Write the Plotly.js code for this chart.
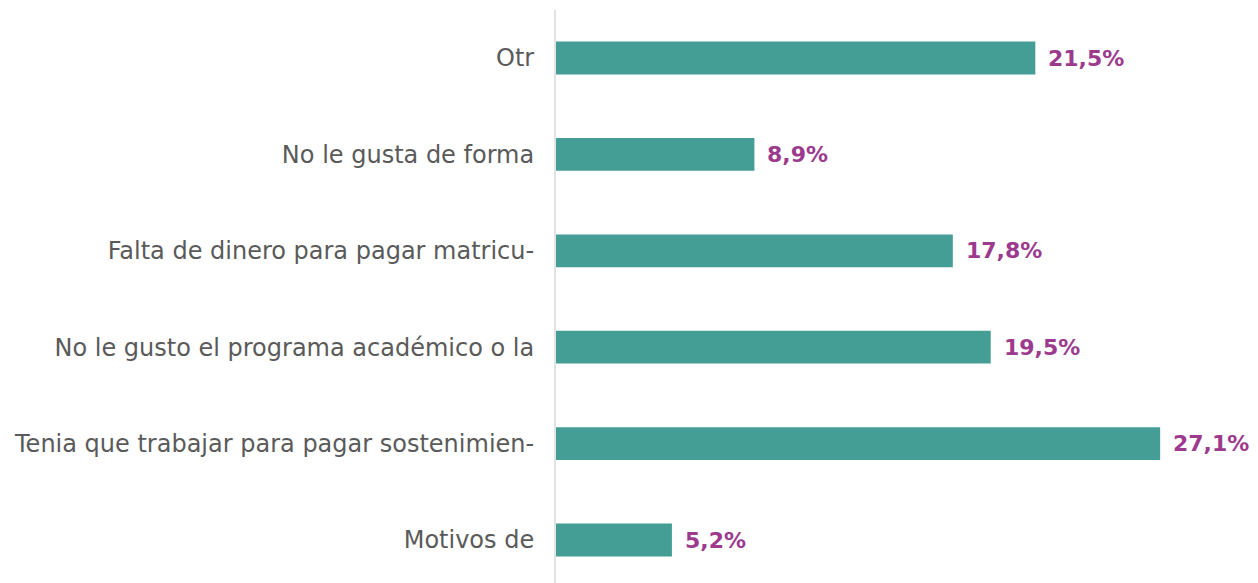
<!DOCTYPE html>
<html>
<head>
<meta charset="utf-8">
<script src="https://cdn.plot.ly/plotly-3.0.1.min.js"></script>
<style>html,body{margin:0;padding:0;background:#fff;}#chart{width:1258px;height:583px;}</style>
</head>
<body>
<div id="chart"></div>
<script>
const categories = [
  "Motivos de",
  "Tenia que trabajar para pagar sostenimien-",
  "No le gusto el programa académico o la",
  "Falta de dinero para pagar matricu-",
  "No le gusta de forma",
  "Otr"
];
const values = [5.2, 27.1, 19.5, 17.8, 8.9, 21.5];
const valueLabels = ["5,2%", "27,1%", "19,5%", "17,8%", "8,9%", "21,5%"];

const trace = {
  type: "bar",
  orientation: "h",
  y: categories,
  x: values,
  width: 0.34,
  marker: { color: "#459e96", line: { width: 0 } },
  hoverinfo: "none"
};

const annotations = categories.map((c, i) => ({
  x: values[i],
  y: c,
  xref: "x",
  yref: "y",
  text: valueLabels[i],
  showarrow: false,
  xanchor: "left",
  yanchor: "middle",
  xshift: 11,
  font: { family: "DejaVu Sans, sans-serif", size: 22, color: "#9c3a8e", weight: 700 }
}));

const layout = {
  width: 1258,
  height: 583,
  margin: { l: 556, r: 8, t: 10, b: 0 },
  paper_bgcolor: "#ffffff",
  plot_bgcolor: "#ffffff",
  showlegend: false,
  xaxis: {
    range: [0, 31.13],
    showgrid: false,
    zeroline: false,
    showline: false,
    showticklabels: false,
    ticks: ""
  },
  yaxis: {
    type: "category",
    range: [-0.446, 5.498],
    showgrid: false,
    zeroline: false,
    showline: true,
    linecolor: "#e3e3e3",
    linewidth: 2,
    ticks: "",
    ticklabelstandoff: 15,
    tickfont: { family: "DejaVu Sans, sans-serif", size: 24, color: "#5a5a5a" }
  },
  annotations: annotations
};

Plotly.newPlot("chart", [trace], layout, { displayModeBar: false, staticPlot: true });
</script>
</body>
</html>
